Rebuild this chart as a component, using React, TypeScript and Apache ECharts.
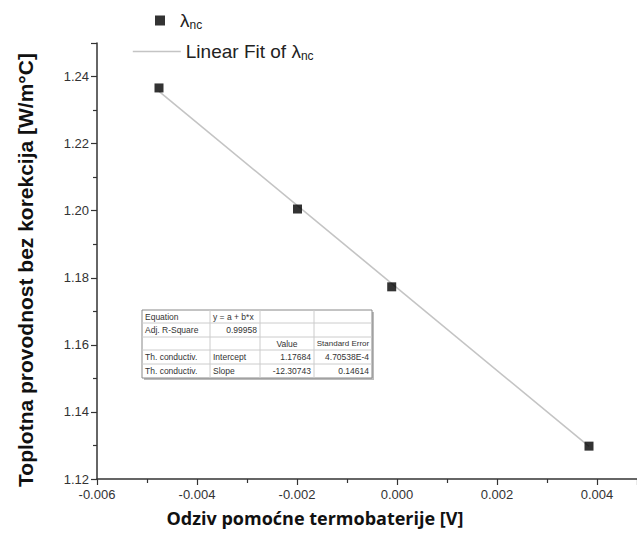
import React, { useEffect, useRef } from "react";
import * as echarts from "echarts";

const xValues = [-0.00476, -0.00199, -0.000106, 0.00384];
const yValues = [1.2366, 1.2005, 1.1773, 1.1298];
const fitX = [-0.00476, 0.00384];
const fitY = [1.2356, 1.1297];

const tableRows: string[][] = [
  ["Equation", "y = a + b*x", "", ""],
  ["Adj. R-Square", "0.99958", "", ""],
  ["", "", "Value", "Standard Error"],
  ["Th. conductiv.", "Intercept", "1.17684", "4.70538E-4"],
  ["Th. conductiv.", "Slope", "-12.30743", "0.14614"],
];

const colX = [142, 210, 260, 314, 372];
const rowY = [310, 323, 337, 350, 364, 378];

function buildTable() {
  const children: any[] = [];
  const L = colX[0], R = colX[colX.length - 1], T = rowY[0], B = rowY[rowY.length - 1];
  children.push({ type: "rect", shape: { x: L + 2, y: T + 2, width: R - L, height: B - T }, style: { fill: "#bbbbbb" } });
  children.push({ type: "rect", shape: { x: L, y: T, width: R - L, height: B - T }, style: { fill: "#ffffff", stroke: "#888888", lineWidth: 1 } });
  for (let i = 1; i < rowY.length - 1; i++) {
    children.push({ type: "line", shape: { x1: L, y1: rowY[i], x2: R, y2: rowY[i] }, style: { stroke: "#cccccc", lineWidth: 1 } });
  }
  for (let j = 1; j < colX.length - 1; j++) {
    children.push({ type: "line", shape: { x1: colX[j], y1: T, x2: colX[j], y2: B }, style: { stroke: "#cccccc", lineWidth: 1 } });
  }
  tableRows.forEach((row, i) => {
    row.forEach((txt, j) => {
      if (!txt) return;
      const cy = (rowY[i] + rowY[i + 1]) / 2;
      let align = "left";
      let x = colX[j] + 3;
      let size = 8.5;
      const numeric = /^-?[0-9]/.test(txt);
      if (numeric) { align = "right"; x = colX[j + 1] - 3; }
      if (txt === "Value" || txt === "Standard Error") { align = "center"; x = (colX[j] + colX[j + 1]) / 2; }
      if (txt === "Standard Error") size = 8;
      children.push({
        type: "text",
        x, y: cy,
        style: { text: txt, fill: "#333", font: size + "px 'Liberation Sans', Arial, sans-serif", align, verticalAlign: "middle" },
      });
    });
  });
  return { type: "group", children };
}

export default function App() {
  const ref = useRef<HTMLDivElement>(null);
  useEffect(() => {
    document.body.style.margin = "0";
    const chart = echarts.init(ref.current!, null, { renderer: "svg" });
    const rich = {
      a: { fontSize: 19, fontFamily: "'Liberation Sans', Arial, sans-serif", color: "#222" },
      b: { fontSize: 12, fontFamily: "'Liberation Sans', Arial, sans-serif", color: "#222", padding: [8, 0, 0, 0] },
      p: { fontSize: 19, fontFamily: "'Liberation Sans', Arial, sans-serif", color: "#222", padding: [0, 0, 0, 10] },
    };
    chart.setOption({
      animation: false,
      backgroundColor: "#ffffff",
      grid: { left: 97, right: 0, top: 43, bottom: 65, containLabel: false },
      legend: [
        {
          data: [{ name: "λnc", icon: "rect" }],
          left: 150, top: 6, orient: "vertical",
          itemWidth: 10, itemHeight: 10, itemGap: 10,
          formatter: () => "{p|λ}{b|nc}",
          textStyle: { rich },
        },
        {
          data: [{ name: "Linear Fit of λnc" }],
          left: 127, top: 37, orient: "vertical",
          itemWidth: 48, itemHeight: 10, itemGap: 6,
          itemStyle: { opacity: 0 },
          lineStyle: { color: "#c4c4c4", width: 1.6 },
          formatter: () => "{a|Linear Fit of λ}{b|nc}",
          textStyle: { rich },
        },
      ],
      xAxis: {
        type: "value",
        min: -0.006, max: 0.0048, interval: 0.002,
        axisLine: { onZero: false, lineStyle: { color: "#333", width: 1.5 } },
        axisTick: { show: true, length: 6, lineStyle: { color: "#333", width: 1.2 } },
        minorTick: { show: true, splitNumber: 2, length: 4, lineStyle: { color: "#333", width: 1.2 } },
        splitLine: { show: false },
        axisLabel: {
          showMaxLabel: false, margin: 9,
          color: "#333", fontSize: 13, fontFamily: "'Liberation Sans', Arial, sans-serif",
          formatter: (v: number) => v.toFixed(3),
        },
      },
      yAxis: {
        type: "value",
        min: 1.12, max: 1.25, interval: 0.02,
        axisLine: { onZero: false, lineStyle: { color: "#333", width: 1.5 } },
        axisTick: { show: true, length: 6, lineStyle: { color: "#333", width: 1.2 } },
        minorTick: { show: true, splitNumber: 2, length: 4, lineStyle: { color: "#333", width: 1.2 } },
        splitLine: { show: false },
        axisLabel: {
          showMaxLabel: false, margin: 8,
          color: "#333", fontSize: 13, fontFamily: "'Liberation Sans', Arial, sans-serif",
          formatter: (v: number) => v.toFixed(2),
        },
      },
      graphic: [
        {
          type: "text", x: 25, y: 270, rotation: Math.PI / 2,
          style: {
            text: "Toplotna provodnost bez korekcija [W/m°C]",
            fill: "#111", font: "bold 21px 'Liberation Sans', Arial, sans-serif",
            align: "center", verticalAlign: "middle",
          },
        },
        {
          type: "text", x: 315, y: 518,
          style: {
            text: "Odziv pomoćne termobaterije [V]",
            fill: "#111", font: "bold 18px 'Open Sans', sans-serif",
            align: "center", verticalAlign: "middle",
          },
        },
        buildTable(),
      ],
      series: [
        {
          name: "Linear Fit of λnc",
          type: "line",
          data: fitX.map((x, i) => [x, fitY[i]]),
          showSymbol: false,
          symbol: "none",
          lineStyle: { color: "#c4c4c4", width: 1.6 },
          itemStyle: { color: "#c4c4c4" },
          z: 1,
        },
        {
          name: "λnc",
          type: "scatter",
          data: xValues.map((x, i) => [x, yValues[i]]),
          symbol: "rect",
          symbolSize: 9,
          itemStyle: { color: "#000" },
          z: 3,
        },
      ],
    });
    return () => chart.dispose();
  }, []);
  return <div ref={ref} style={{ width: 637, height: 544 }} />;
}
